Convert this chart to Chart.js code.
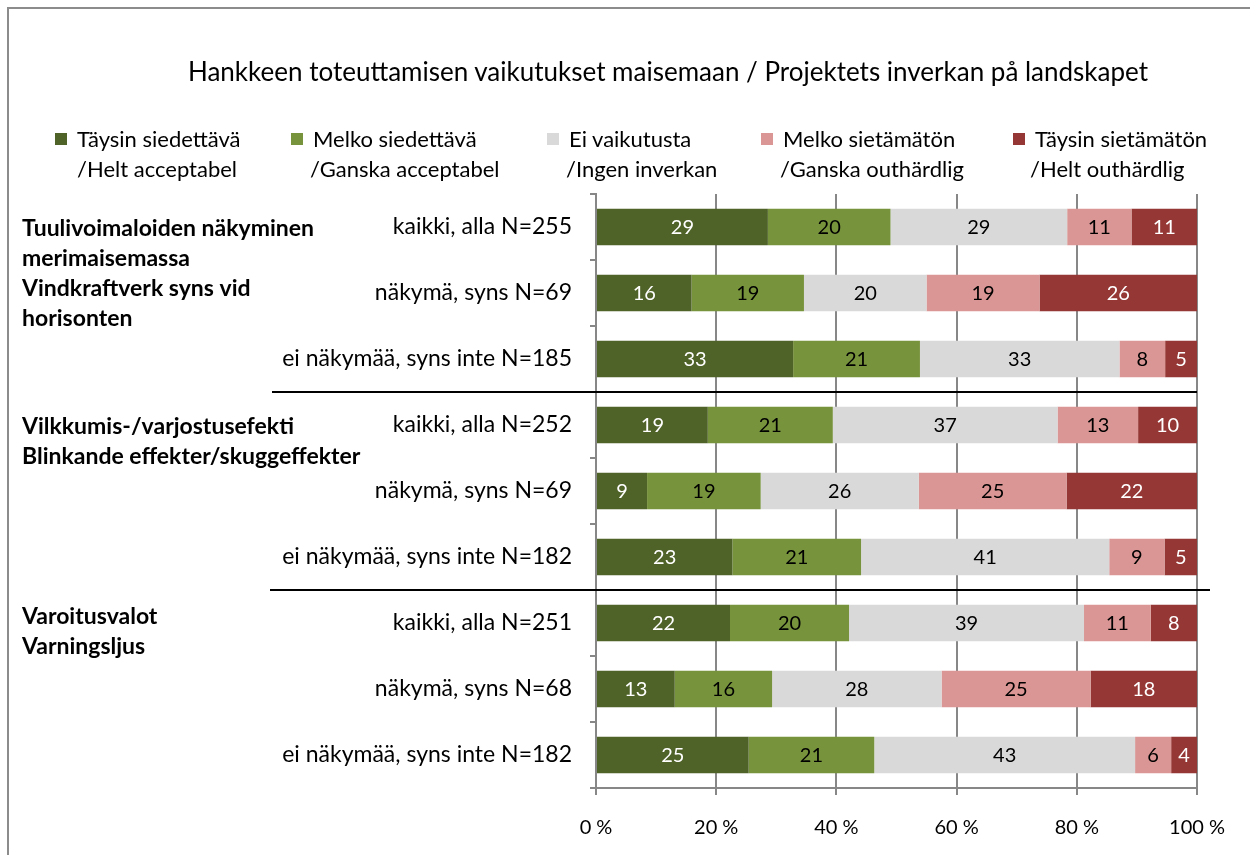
<!DOCTYPE html>
<html>
<head>
<meta charset="utf-8">
<script src="https://cdn.jsdelivr.net/npm/chart.js@4.4.1/dist/chart.umd.min.js"></script>
<style>
    body { margin: 0; background: #fff; font-family: Lato, 'Open Sans', sans-serif; }
    #wrap { position: relative; width: 1250px; height: 855px; overflow: hidden; }
    #frame { position: absolute; left: 7px; top: 7px; width: 1300px; height: 900px; border: 2px solid #8c8c8c; }
    #chartBox { position: absolute; left: 0; top: 0; width: 1250px; height: 855px; }
    #title { position: absolute; left: 0; width: 1336px; top: 55px; text-align: center; font-size: 26px; color: #000; }
    .lg { position: absolute; font-size: 22px; color: #000; line-height: 30px; white-space: nowrap; }
    .lg i { position: absolute; left: -22px; top: 9px; width: 12px; height: 12px; }
</style>
</head>
<body>
<div id="wrap">
    <div id="frame"></div>
    <div id="chartBox"><canvas id="impactChart"></canvas></div>
    <div id="title">Hankkeen toteuttamisen vaikutukset maisemaan / Projektets inverkan på landskapet</div>
    <div id="legend"></div>
</div>
<script>
(function() {
    'use strict';

    var categories = [
        'kaikki, alla N=255', 'näkymä, syns N=69', 'ei näkymää, syns inte N=185',
        'kaikki, alla N=252', 'näkymä, syns N=69', 'ei näkymää, syns inte N=182',
        'kaikki, alla N=251', 'näkymä, syns N=68', 'ei näkymää, syns inte N=182'
    ];
    var seriesNames = [
        ['Täysin siedettävä', '/Helt acceptabel'],
        ['Melko siedettävä', '/Ganska acceptabel'],
        ['Ei vaikutusta', '/Ingen inverkan'],
        ['Melko sietämätön', '/Ganska outhärdlig'],
        ['Täysin sietämätön', '/Helt outhärdlig']
    ];
    var heltAcceptabel   = [28.6, 15.9, 32.8, 18.6, 8.5, 22.7, 22.3, 13.1, 25.4];
    var ganskaAcceptabel = [20.4, 18.7, 21.1, 20.8, 18.9, 21.4, 19.8, 16.2, 20.9];
    var ingenInverkan    = [29.4, 20.4, 33.2, 37.4, 26.3, 41.3, 39.1, 28.2, 43.4];
    var ganskaOuthardlig = [10.7, 18.8, 7.6, 13.4, 24.6, 9.2, 11.1, 24.8, 6.0];
    var heltOuthardlig   = [10.9, 26.2, 5.3, 9.8, 21.7, 5.4, 7.7, 17.7, 4.3];
    var xTicks = [0, 20, 40, 60, 80, 100];
    var groups = [
        { first: 0, dy: 2, lines: ['Tuulivoimaloiden näkyminen', 'merimaisemassa', 'Vindkraftverk syns vid', 'horisonten'] },
        { first: 3, dy: 2, lines: ['Vilkkumis-/varjostusefekti', 'Blinkande effekter/skuggeffekter'] },
        { first: 6, dy: -6, lines: ['Varoitusvalot', 'Varningsljus'] }
    ];

    var colors = ['#4f6228', '#77933c', '#d9d9d9', '#d99694', '#953735'];
    var labelColors = ['#fff', '#000', '#000', '#000', '#fff'];
    var legendPos = [[77, 77], [313, 310], [569, 566], [783, 780], [1035, 1030]];
    var fontFamily = 'Lato, "Open Sans", sans-serif';

    // HTML legend, two lines per item
    var legendEl = document.getElementById('legend');
    seriesNames.forEach(function(name, i) {
        var a = document.createElement('div');
        a.className = 'lg';
        a.style.left = legendPos[i][0] + 'px';
        a.style.top = '124px';
        a.innerHTML = '<i style="background:' + colors[i] + '"></i>' + name[0];
        legendEl.appendChild(a);
        var b = document.createElement('div');
        b.className = 'lg';
        b.style.left = legendPos[i][1] + 'px';
        b.style.top = '154px';
        b.textContent = name[1];
        legendEl.appendChild(b);
    });

    var barLabels = {
        id: 'barLabels',
        afterDatasetsDraw: function(chart) {
            var ctx = chart.ctx;
            ctx.save();
            ctx.font = '20px ' + fontFamily;
            ctx.textAlign = 'center';
            ctx.textBaseline = 'middle';
            chart.data.datasets.forEach(function(ds, di) {
                var meta = chart.getDatasetMeta(di);
                ctx.fillStyle = labelColors[di];
                meta.data.forEach(function(bar, i) {
                    var cx = (bar.x + bar.base) / 2;
                    ctx.fillText(String(Math.round(ds.data[i])), cx, bar.y + 1);
                });
            });
            ctx.restore();
        }
    };

    var groupDecor = {
        id: 'groupDecor',
        afterDraw: function(chart) {
            var ctx = chart.ctx;
            var y = chart.scales.y;
            var area = chart.chartArea;
            ctx.save();
            // group titles
            ctx.font = 'bold 23px ' + fontFamily;
            ctx.fillStyle = '#000';
            ctx.textAlign = 'left';
            ctx.textBaseline = 'middle';
            groups.forEach(function(g) {
                var top = y.getPixelForValue(g.first) + g.dy;
                g.lines.forEach(function(line, li) {
                    ctx.fillText(line, 22, top + li * 30);
                });
            });
            // separators between groups
            ctx.strokeStyle = '#000';
            ctx.lineWidth = 2;
            var sepY1 = Math.round((y.getPixelForValue(2) + y.getPixelForValue(3)) / 2);
            var sepY2 = Math.round((y.getPixelForValue(5) + y.getPixelForValue(6)) / 2);
            ctx.beginPath();
            ctx.moveTo(272, sepY1);
            ctx.lineTo(area.right, sepY1);
            ctx.moveTo(270, sepY2);
            ctx.lineTo(area.right + 13, sepY2);
            ctx.stroke();
            ctx.restore();
        }
    };

    var allSeries = [heltAcceptabel, ganskaAcceptabel, ingenInverkan, ganskaOuthardlig, heltOuthardlig];

    new Chart(document.getElementById('impactChart').getContext('2d'), {
        type: 'bar',
        data: {
            labels: categories,
            datasets: allSeries.map(function(values, i) {
                return {
                    label: seriesNames[i].join(' '),
                    data: values,
                    backgroundColor: colors[i],
                    borderWidth: 0,
                    categoryPercentage: 1,
                    barPercentage: 0.55
                };
            })
        },
        options: {
            indexAxis: 'y',
            responsive: true,
            maintainAspectRatio: false,
            animation: false,
            layout: {
                padding: { left: 0, right: 53, top: 194, bottom: 0 }
            },
            plugins: {
                legend: { display: false },
                title: { display: false },
                tooltip: { enabled: false }
            },
            scales: {
                x: {
                    stacked: true,
                    min: 0,
                    max: 100,
                    afterBuildTicks: function(scale) {
                        scale.ticks = xTicks.map(function(v) { return { value: v }; });
                    },
                    afterFit: function(scale) {
                        scale.height = 67;
                    },
                    grid: {
                        color: '#878787',
                        lineWidth: 2,
                        tickLength: 7
                    },
                    border: { display: true, color: '#878787', width: 2 },
                    ticks: {
                        padding: 21,
                        color: '#000',
                        font: { family: fontFamily, size: 20 },
                        callback: function(value) {
                            return value + ' %';
                        }
                    }
                },
                y: {
                    stacked: true,
                    afterFit: function(scale) {
                        scale.width = 596;
                    },
                    grid: {
                        drawOnChartArea: false,
                        drawTicks: true,
                        tickLength: 6,
                        color: '#878787',
                        lineWidth: 2,
                        offset: true
                    },
                    border: { display: true, color: '#878787', width: 2 },
                    ticks: {
                        padding: 18,
                        color: '#000',
                        font: { family: fontFamily, size: 23 }
                    }
                }
            }
        },
        plugins: [barLabels, groupDecor]
    });
})();
</script>
</body>
</html>
